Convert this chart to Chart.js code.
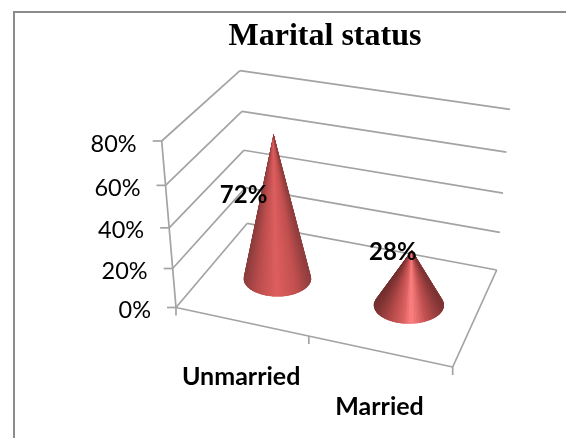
<!DOCTYPE html>
<html>
<head>
<meta charset="utf-8">
<title>Marital status</title>
<script src="https://cdn.jsdelivr.net/npm/chart.js@4"></script>
<style>
    html, body { margin: 0; padding: 0; background: #fff; }
    canvas { display: block; }
</style>
</head>
<body>
<canvas id="cone-chart" width="566" height="438"></canvas>
<script>
const categories = ['Unmarried', 'Married'];
const values = [72, 28];
const axisMax = 80;
const axisStep = 20;

// corners of the 3D box as it sits on the canvas
const box = {
    floorFrontLeft: [176, 307.5],
    floorFrontRight: [452.7, 367],
    floorBackLeft: [247.3, 223.3],
    floorBackRight: [496.7, 270],
    topFrontLeft: [161.7, 141],
    topFrontRight: [470, 190],
    topBackLeft: [240, 70.7],
    topBackRight: [510, 109.3]
};
const heightSkew = 1.09;

const gridColor = '#a3a3a3';
const textColor = '#000';

// shading across each cone, -1 left edge to 1 right edge
const coneRamps = [
    [[-1, '#8a3c3c'], [-0.6, '#b94c4c'], [0, '#de5f5f'], [0.6, '#c24f4f'], [1, '#903e3e']],
    [[-1, '#742f2f'], [-0.5, '#b84b4b'], [-0.15, '#da6161'], [0.08, '#ff8282'], [0.5, '#c45252'], [1, '#7e3434']]
];
const labelShift = [[-30, 61], [-19, 2]];

function lerp(a, b, t) {
    return [a[0] + (b[0] - a[0]) * t, a[1] + (b[1] - a[1]) * t];
}

// u along the categories, v up the value axis, d from front to back
function project(u, v, d) {
    const floor = lerp(lerp(box.floorFrontLeft, box.floorFrontRight, u), lerp(box.floorBackLeft, box.floorBackRight, u), d);
    const top = lerp(lerp(box.topFrontLeft, box.topFrontRight, u), lerp(box.topBackLeft, box.topBackRight, u), d);
    return lerp(floor, top, v / (v + (1 - v) * heightSkew));
}

function line(ctx, a, b) {
    ctx.beginPath();
    ctx.moveTo(a[0], a[1]);
    ctx.lineTo(b[0], b[1]);
    ctx.stroke();
}

function normX(chart, px) {
    return (px - chart.chartArea.left) / chart.chartArea.width;
}

function normY(chart, py) {
    return (chart.chartArea.bottom - py) / chart.chartArea.height;
}

function rampColor(ramp, s) {
    let i = 0;
    while (i < ramp.length - 2 && s > ramp[i + 1][0]) i++;
    const t = Math.min(1, Math.max(0, (s - ramp[i][0]) / (ramp[i + 1][0] - ramp[i][0])));
    const from = ramp[i][1], to = ramp[i + 1][1];
    const rgb = [1, 3, 5].map(k => {
        const a = parseInt(from.substr(k, 2), 16);
        const b = parseInt(to.substr(k, 2), 16);
        return Math.round(a + (b - a) * t);
    });
    return `rgb(${rgb.join(',')})`;
}

function drawCone(ctx, base, apex, rx, ry, ramp) {
    const h = Math.max(base[1] - apex[1], ry * 1.5);
    const tilt = Math.asin(ry / h);
    const start = Math.PI + tilt;
    const sweep = Math.PI + 2 * tilt;
    const steps = 48;

    ctx.save();
    // clip to the outline so the slice strokes do not spill over the edge
    ctx.beginPath();
    ctx.moveTo(apex[0], apex[1]);
    ctx.ellipse(base[0], base[1], rx, ry, 0, start, start - sweep, true);
    ctx.closePath();
    ctx.clip();

    for (let i = 0; i < steps; i++) {
        const a0 = start - sweep * i / steps;
        const a1 = start - sweep * (i + 1) / steps;
        const color = rampColor(ramp, Math.cos((a0 + a1) / 2));
        ctx.beginPath();
        ctx.moveTo(apex[0], apex[1]);
        ctx.lineTo(base[0] + rx * Math.cos(a0), base[1] + ry * Math.sin(a0));
        ctx.lineTo(base[0] + rx * Math.cos(a1), base[1] + ry * Math.sin(a1));
        ctx.closePath();
        ctx.fillStyle = color;
        ctx.strokeStyle = color;
        ctx.lineWidth = 1.2;
        ctx.fill();
        ctx.stroke();
    }
    ctx.restore();
}

const boxPlugin = {
    id: 'box3d',
    beforeDatasetsDraw(chart) {
        const ctx = chart.ctx;
        const yScale = chart.scales.y;

        ctx.save();
        // frame of the pasted chart, only left and top show
        ctx.strokeStyle = '#8c8c8c';
        ctx.lineWidth = 2;
        ctx.beginPath();
        ctx.moveTo(14, 438);
        ctx.lineTo(14, 12);
        ctx.lineTo(566, 12);
        ctx.stroke();

        ctx.strokeStyle = gridColor;
        ctx.lineWidth = 1.7;
        yScale.ticks.forEach(tick => {
            const v = normY(chart, yScale.getPixelForValue(tick.value));
            const front = project(0, v, 0);
            const corner = project(0, v, 1);
            line(ctx, front, corner);
            line(ctx, corner, project(1, v, 1));
            line(ctx, [front[0] - 9, front[1]], front);
        });

        line(ctx, project(0, 0, 0), project(0, 1, 0));
        line(ctx, project(0, 0, 0), project(1, 0, 0));
        line(ctx, project(1, 0, 0), project(1, 0, 1));

        // category dividers hang below the front edge
        [0, 0.48, 1].forEach(u => {
            const p = project(u, 0, 0);
            line(ctx, p, [p[0], p[1] + 8]);
        });
        ctx.restore();
    },
    afterDatasetsDraw(chart) {
        const ctx = chart.ctx;
        const yScale = chart.scales.y;
        const xScale = chart.scales.x;
        const bars = chart.getDatasetMeta(0).data;

        ctx.save();
        bars.forEach((bar, i) => {
            const u = normX(chart, bar.x);
            const halfU = bar.width / 2 / chart.chartArea.width;
            const base = project(u, 0, 0.5);
            const apex = project(u, normY(chart, bar.y), 0.5);
            const a = project(u - halfU, 0, 0.5);
            const b = project(u + halfU, 0, 0.5);
            const near = 1 + (u - 0.5) * 0.08;
            const rx = Math.hypot(b[0] - a[0], b[1] - a[1]) / 2 * near;
            drawCone(ctx, base, apex, rx, rx * 0.53, coneRamps[i]);
        });

        ctx.fillStyle = textColor;
        ctx.textBaseline = 'middle';

        // value labels
        ctx.font = 'bold 24px Lato';
        ctx.textAlign = 'center';
        bars.forEach((bar, i) => {
            const apex = project(normX(chart, bar.x), normY(chart, bar.y), 0.5);
            ctx.fillText(values[i] + '%', apex[0] + labelShift[i][0], apex[1] + labelShift[i][1]);
        });

        // category labels follow the slanted front edge
        ctx.font = 'bold 25px Lato';
        categories.forEach((name, i) => {
            const p = project(normX(chart, xScale.getPixelForValue(i)), 0, 0);
            ctx.fillText(name, p[0] - 4, p[1] + 55);
        });

        // value axis labels follow the slanted axis
        ctx.font = '23.5px Lato';
        ctx.textAlign = 'right';
        yScale.ticks.forEach(tick => {
            const p = project(0, normY(chart, yScale.getPixelForValue(tick.value)), 0);
            ctx.fillText(tick.label, p[0] - 25, p[1] + 3);
        });
        ctx.restore();
    }
};

new Chart(document.getElementById('cone-chart').getContext('2d'), {
    type: 'bar',
    data: {
        labels: categories,
        datasets: [{
            data: values,
            backgroundColor: 'transparent',
            barPercentage: 0.514,
            categoryPercentage: 1
        }]
    },
    options: {
        responsive: false,
        animation: false,
        events: [],
        layout: { padding: { left: 150, right: 66, top: 0, bottom: 100 } },
        plugins: {
            legend: { display: false },
            tooltip: { enabled: false },
            title: {
                display: true,
                text: 'Marital status',
                fullSize: false,
                color: textColor,
                font: { family: '"Liberation Serif"', size: 32, weight: 'bold' },
                padding: { top: 18, bottom: 10 }
            }
        },
        scales: {
            x: { display: false },
            y: {
                display: false,
                min: 0,
                max: axisMax,
                ticks: { stepSize: axisStep, callback: v => v + '%' }
            }
        }
    },
    plugins: [boxPlugin]
});
</script>
</body>
</html>
